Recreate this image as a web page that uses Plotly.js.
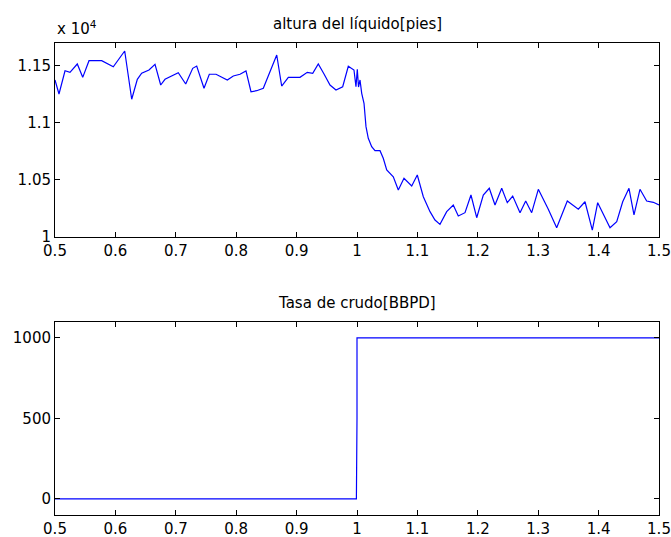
<!DOCTYPE html>
<html>
<head>
<meta charset="utf-8">
<script src="https://cdn.plot.ly/plotly-3.0.1.min.js"></script>
<style>html,body{margin:0;padding:0;background:#fff;}#chart{width:671px;height:537px;}</style>
</head>
<body>
<div id="chart"></div>
<script>
// Top panel: altura del líquido [pies]
const alturaX = [0.5, 0.5066, 0.5166, 0.5248, 0.5369, 0.5459, 0.5563, 0.5773, 0.5965, 0.6154,
  0.6270, 0.6363, 0.6435, 0.6556, 0.6656, 0.6750, 0.6821, 0.6932, 0.7041, 0.7164,
  0.7280, 0.7346, 0.7467, 0.7555, 0.7666, 0.7853, 0.7952, 0.8063, 0.8162, 0.8245,
  0.8339, 0.8449, 0.8671, 0.8753, 0.8863, 0.9056, 0.9177, 0.9267, 0.9359, 0.9454,
  0.9553, 0.9652, 0.9763, 0.9856, 0.9950, 0.9983, 1.0005, 1.0025, 1.0050, 1.0078,
  1.0116, 1.0149, 1.0187, 1.0243, 1.0298, 1.0381, 1.0435, 1.0492, 1.0601, 1.0684,
  1.0778, 1.0906, 1.0998, 1.1098, 1.1209, 1.1291, 1.1374, 1.1485, 1.1594, 1.1677,
  1.1788, 1.1887, 1.1982, 1.2091, 1.2190, 1.2285, 1.2396, 1.2488, 1.2578, 1.2699,
  1.2793, 1.2892, 1.3002, 1.3167, 1.3306, 1.3482, 1.3664, 1.3775, 1.3896, 1.3985,
  1.4189, 1.4300, 1.4399, 1.4503, 1.4586, 1.4685, 1.4796, 1.4906, 1.5];
const alturaY = [11376, 11253, 11457, 11443, 11516, 11399, 11545, 11545, 11492, 11630,
  11207, 11382, 11435, 11463, 11513, 11332, 11382, 11411, 11440, 11341,
  11478, 11498, 11303, 11426, 11426, 11376, 11411, 11426, 11455, 11273,
  11282, 11303, 11595, 11323, 11399, 11399, 11443, 11435, 11516, 11428,
  11332, 11288, 11317, 11496, 11463, 11317, 11470, 11314, 11376, 11259,
  11172, 10967, 10865, 10791, 10756, 10756, 10690, 10587, 10528, 10412,
  10514, 10447, 10543, 10353, 10222, 10149, 10111, 10222, 10280, 10184,
  10213, 10368, 10169, 10368, 10427, 10280, 10427, 10301, 10359, 10213,
  10315, 10213, 10418, 10243, 10081, 10315, 10243, 10309, 10061, 10301,
  10081, 10134, 10309, 10427, 10193, 10418, 10315, 10304, 10280];

// Bottom panel: Tasa de crudo [BBPD]
const tasaX = [0.5, 0.999, 1.0, 1.0, 1.5];
const tasaY = [0, 0, 500, 1000, 1000];

// Tick labels
const xTicks = [0.5, 0.6, 0.7, 0.8, 0.9, 1.0, 1.1, 1.2, 1.3, 1.4, 1.5];
const xTickText = ['0.5', '0.6', '0.7', '0.8', '0.9', '1', '1.1', '1.2', '1.3', '1.4', '1.5'];
const y1Ticks = [10000, 10500, 11000, 11500];
const y1TickText = ['1', '1.05', '1.1', '1.15'];
const y2Ticks = [0, 500, 1000];
const y2TickText = ['0', '500', '1000'];

const titleTop = 'altura del líquido[pies]';
const titleBottom = 'Tasa de crudo[BBPD]';
const exponentLabel = 'x 10<sup>4</sup>';

const font = {family: 'DejaVu Sans, Liberation Sans, sans-serif', size: 15, color: '#000'};

const axisCommon = {
  showline: true, linecolor: '#000', linewidth: 1, mirror: 'ticks',
  ticks: 'inside', ticklen: 5, tickcolor: '#000', tickwidth: 1,
  showgrid: false, zeroline: false, tickfont: font
};

const traces = [
  {x: alturaX, y: alturaY, type: 'scatter', mode: 'lines', line: {color: '#0000ff', width: 1.2}, xaxis: 'x', yaxis: 'y', hoverinfo: 'none'},
  {x: tasaX, y: tasaY, type: 'scatter', mode: 'lines', line: {color: '#0000ff', width: 1.2}, xaxis: 'x2', yaxis: 'y2', hoverinfo: 'none'}
];

const layout = {
  width: 671, height: 537,
  margin: {l: 55, r: 12, t: 43, b: 22},
  paper_bgcolor: '#fff', plot_bgcolor: '#fff',
  showlegend: false,
  font: font,
  xaxis: Object.assign({}, axisCommon, {domain: [0, 1], range: [0.5, 1.5], tickvals: xTicks, ticktext: xTickText, anchor: 'y'}),
  yaxis: Object.assign({}, axisCommon, {domain: [0.589, 1], range: [10000, 11700], tickvals: y1Ticks, ticktext: y1TickText, anchor: 'x'}),
  xaxis2: Object.assign({}, axisCommon, {domain: [0, 1], range: [0.5, 1.5], tickvals: xTicks, ticktext: xTickText, anchor: 'y2'}),
  yaxis2: Object.assign({}, axisCommon, {domain: [0, 0.4095], range: [-100, 1100], tickvals: y2Ticks, ticktext: y2TickText, anchor: 'x2'}),
  annotations: [
    {text: titleTop, xref: 'paper', yref: 'paper', x: 0.5, y: 1, xanchor: 'center', yanchor: 'bottom', yshift: 8, showarrow: false, font: font},
    {text: titleBottom, xref: 'paper', yref: 'paper', x: 0.5, y: 0.4095, xanchor: 'center', yanchor: 'bottom', yshift: 8, showarrow: false, font: font},
    {text: exponentLabel, xref: 'paper', yref: 'paper', x: 0, y: 1, xanchor: 'left', yanchor: 'bottom', yshift: 3, showarrow: false, font: font}
  ]
};

Plotly.newPlot('chart', traces, layout, {staticPlot: true, displayModeBar: false});
</script>
</body>
</html>
